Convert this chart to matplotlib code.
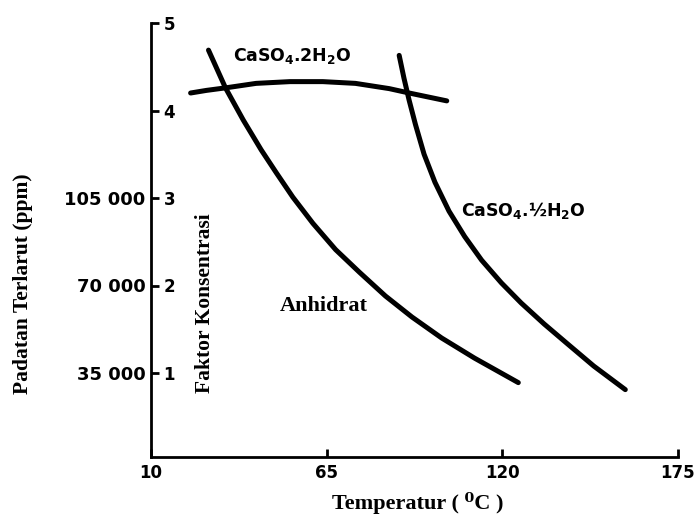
import matplotlib
matplotlib.use("Agg")
import matplotlib.pyplot as plt

plt.rcParams["mathtext.default"] = "bf"

# ---- data ----
anhidrat_t = [28.0, 33.3, 38.9, 44.5, 49.2, 54.4, 60.7, 67.8, 75.3, 83.4, 91.7, 101.0, 111.3, 125.0]
anhidrat_f = [4.69, 4.26, 3.89, 3.55, 3.29, 3.01, 2.71, 2.41, 2.15, 1.88, 1.64, 1.40, 1.17, 0.89]

gypsum_t = [22.4, 27.4, 33.6, 42.9, 53.5, 63.8, 74.0, 84.6, 90.8, 102.6]
gypsum_f = [4.20, 4.23, 4.26, 4.31, 4.33, 4.33, 4.31, 4.25, 4.20, 4.11]

hemi_t = [87.7, 89.2, 90.8, 92.8, 95.5, 98.9, 103.3, 108.2, 113.5, 119.7, 125.9, 133.1, 140.5, 148.6, 158.5]
hemi_f = [4.63, 4.37, 4.12, 3.84, 3.50, 3.18, 2.85, 2.56, 2.29, 2.03, 1.80, 1.56, 1.33, 1.08, 0.81]

x_ticks = [10, 65, 120, 175]
factor_ticks = [1, 2, 3, 4, 5]
ppm_ticks = [35000, 70000, 105000]
ppm_labels = ["35 000", "70 000", "105 000"]
ppm_per_factor = 35000

W, H = 699, 518
fig = plt.figure(figsize=(W / 100, H / 100), dpi=100)
ax_l, ax_r, ax_t, ax_b = 151, 678, 23, 457
ax = fig.add_axes([ax_l / W, 1 - ax_b / H, (ax_r - ax_l) / W, (ax_b - ax_t) / H])

lw = 3.6
for t, f in [(anhidrat_t, anhidrat_f), (gypsum_t, gypsum_f), (hemi_t, hemi_f)]:
    ax.plot(t, f, color="black", lw=lw, solid_capstyle="round", solid_joinstyle="round")

ax.set_xlim(10, 175)
ax.set_ylim(0.04, 5.0)
for s in ["top", "right"]:
    ax.spines[s].set_visible(False)
for s in ["left", "bottom"]:
    ax.spines[s].set_linewidth(2.0)

sans = dict(family="DejaVu Sans", weight="bold")
ax.set_xticks(x_ticks)
ax.set_xticklabels([str(v) for v in x_ticks], fontsize=12, **sans)
ax.tick_params(axis="x", direction="in", length=6, width=2, pad=5)

ax.set_yticks(factor_ticks)
ax.set_yticklabels([str(v) for v in factor_ticks], fontsize=12, **sans)
ax.tick_params(axis="y", direction="in", length=6, width=2, pad=-9)
for lbl in ax.get_yticklabels():
    lbl.set_horizontalalignment("left")

sec = ax.secondary_yaxis("left", functions=(lambda y: y * ppm_per_factor,
                                            lambda v: v / ppm_per_factor))
sec.set_yticks(ppm_ticks)
sec.set_yticklabels(ppm_labels, fontsize=13, **sans)
sec.tick_params(axis="y", length=0, pad=4)
sec.spines["left"].set_visible(False)

# curve labels
ax.text(54.1, 4.62, r"CaSO$_4$.2H$_2$O", fontsize=12.5, ha="center", va="center", **sans)
ax.text(107.0, 2.86, r"CaSO$_4$.½H$_2$O", fontsize=12.5, ha="left", va="center", **sans)
serif = dict(family=["Liberation Serif", "DejaVu Serif"], weight="bold")
ax.text(64.0, 1.77, "Anhidrat", fontsize=16, ha="center", va="center", **serif)

# axis titles
fig.text(23 / W, 1 - 284 / H, "Padatan Terlarut (ppm)", rotation=90, fontsize=15.5,
         ha="center", va="center", **serif)
fig.text(205 / W, 1 - 303 / H, "Faktor Konsentrasi", rotation=90, fontsize=15.5,
         ha="center", va="center", **serif)
fig.text(418 / W, 1 - 503 / H, "Temperatur ( ⁰C )", fontsize=16,
         ha="center", va="center", **serif)

fig.savefig("out.png", dpi=100)
